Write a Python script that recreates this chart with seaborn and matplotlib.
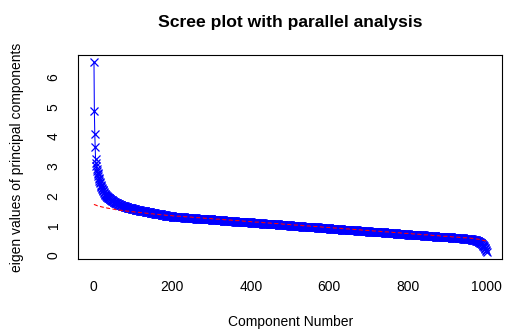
import numpy as np
import matplotlib
matplotlib.use("Agg")
import matplotlib.pyplot as plt
import seaborn as sns

eigen_values = [
    6.51, 4.85, 4.10, 3.65, 3.25, 3.10, 3.00, 2.92, 2.85, 2.78, 2.72, 2.66, 2.60, 2.55, 2.50, 2.46, 2.42, 2.38, 2.34, 2.30,
    2.27, 2.24, 2.21, 2.18, 2.15, 2.12, 2.10, 2.07, 2.05, 2.03, 2.01, 2.00, 1.98, 1.97, 1.96, 1.95, 1.94, 1.93, 1.92, 1.91,
    1.90, 1.89, 1.88, 1.87, 1.86, 1.85, 1.84, 1.83, 1.82, 1.81, 1.80, 1.80, 1.79, 1.78, 1.77, 1.77, 1.76, 1.75, 1.75, 1.74,
    1.73, 1.73, 1.72, 1.71, 1.71, 1.70, 1.70, 1.69, 1.69, 1.68, 1.68, 1.67, 1.67, 1.66, 1.66, 1.65, 1.65, 1.64, 1.64, 1.63,
    1.63, 1.62, 1.62, 1.62, 1.61, 1.61, 1.60, 1.60, 1.60, 1.59, 1.59, 1.58, 1.58, 1.58, 1.57, 1.57, 1.57, 1.56, 1.56, 1.56,
    1.55, 1.55, 1.55, 1.54, 1.54, 1.54, 1.53, 1.53, 1.53, 1.53, 1.52, 1.52, 1.52, 1.51, 1.51, 1.51, 1.51, 1.50, 1.50, 1.50,
    1.49, 1.49, 1.49, 1.49, 1.48, 1.48, 1.48, 1.48, 1.47, 1.47, 1.47, 1.47, 1.46, 1.46, 1.46, 1.46, 1.45, 1.45, 1.45, 1.45,
    1.44, 1.44, 1.44, 1.44, 1.43, 1.43, 1.43, 1.43, 1.42, 1.42, 1.42, 1.42, 1.41, 1.41, 1.41, 1.41, 1.40, 1.40, 1.40, 1.40,
    1.39, 1.39, 1.39, 1.39, 1.38, 1.38, 1.38, 1.38, 1.37, 1.37, 1.37, 1.37, 1.36, 1.36, 1.36, 1.36, 1.35, 1.35, 1.35, 1.35,
    1.34, 1.34, 1.34, 1.33, 1.33, 1.33, 1.33, 1.32, 1.32, 1.32, 1.32, 1.31, 1.31, 1.31, 1.31, 1.30, 1.30, 1.30, 1.30, 1.30,
    1.29, 1.29, 1.29, 1.29, 1.29, 1.29, 1.29, 1.29, 1.29, 1.29, 1.28, 1.28, 1.28, 1.28, 1.28, 1.28, 1.28, 1.28, 1.28, 1.28,
    1.27, 1.27, 1.27, 1.27, 1.27, 1.27, 1.27, 1.27, 1.27, 1.27, 1.26, 1.26, 1.26, 1.26, 1.26, 1.26, 1.26, 1.26, 1.26, 1.26,
    1.25, 1.25, 1.25, 1.25, 1.25, 1.25, 1.25, 1.25, 1.25, 1.25, 1.24, 1.24, 1.24, 1.24, 1.24, 1.24, 1.24, 1.24, 1.24, 1.24,
    1.23, 1.23, 1.23, 1.23, 1.23, 1.23, 1.23, 1.23, 1.23, 1.23, 1.22, 1.22, 1.22, 1.22, 1.22, 1.22, 1.22, 1.22, 1.22, 1.22,
    1.21, 1.21, 1.21, 1.21, 1.21, 1.21, 1.21, 1.21, 1.21, 1.21, 1.20, 1.20, 1.20, 1.20, 1.20, 1.20, 1.20, 1.20, 1.20, 1.20,
    1.19, 1.19, 1.19, 1.19, 1.19, 1.19, 1.19, 1.19, 1.19, 1.19, 1.18, 1.18, 1.18, 1.18, 1.18, 1.18, 1.18, 1.18, 1.18, 1.18,
    1.17, 1.17, 1.17, 1.17, 1.17, 1.17, 1.17, 1.17, 1.17, 1.17, 1.16, 1.16, 1.16, 1.16, 1.16, 1.16, 1.16, 1.16, 1.16, 1.16,
    1.15, 1.15, 1.15, 1.15, 1.15, 1.15, 1.15, 1.15, 1.15, 1.15, 1.14, 1.14, 1.14, 1.14, 1.14, 1.14, 1.14, 1.14, 1.14, 1.14,
    1.13, 1.13, 1.13, 1.13, 1.13, 1.13, 1.13, 1.13, 1.13, 1.13, 1.12, 1.12, 1.12, 1.12, 1.12, 1.12, 1.12, 1.12, 1.12, 1.12,
    1.11, 1.11, 1.11, 1.11, 1.11, 1.11, 1.11, 1.11, 1.11, 1.11, 1.10, 1.10, 1.10, 1.10, 1.10, 1.10, 1.10, 1.10, 1.10, 1.10,
    1.09, 1.09, 1.09, 1.09, 1.09, 1.09, 1.09, 1.09, 1.09, 1.09, 1.08, 1.08, 1.08, 1.08, 1.08, 1.08, 1.08, 1.08, 1.08, 1.08,
    1.07, 1.07, 1.07, 1.07, 1.07, 1.07, 1.07, 1.07, 1.07, 1.07, 1.06, 1.06, 1.06, 1.06, 1.06, 1.06, 1.06, 1.06, 1.06, 1.06,
    1.05, 1.05, 1.05, 1.05, 1.05, 1.05, 1.05, 1.05, 1.05, 1.05, 1.04, 1.04, 1.04, 1.04, 1.04, 1.04, 1.04, 1.04, 1.04, 1.04,
    1.03, 1.03, 1.03, 1.03, 1.03, 1.03, 1.03, 1.03, 1.03, 1.03, 1.02, 1.02, 1.02, 1.02, 1.02, 1.02, 1.02, 1.02, 1.02, 1.02,
    1.01, 1.01, 1.01, 1.01, 1.01, 1.01, 1.01, 1.01, 1.01, 1.01, 1.00, 1.00, 1.00, 1.00, 1.00, 1.00, 1.00, 1.00, 1.00, 1.00,
    0.99, 0.99, 0.99, 0.99, 0.99, 0.99, 0.99, 0.99, 0.99, 0.99, 0.98, 0.98, 0.98, 0.98, 0.98, 0.98, 0.98, 0.98, 0.98, 0.98,
    0.97, 0.97, 0.97, 0.97, 0.97, 0.97, 0.97, 0.97, 0.97, 0.97, 0.96, 0.96, 0.96, 0.96, 0.96, 0.96, 0.96, 0.96, 0.96, 0.96,
    0.95, 0.95, 0.95, 0.95, 0.95, 0.95, 0.95, 0.95, 0.95, 0.95, 0.94, 0.94, 0.94, 0.94, 0.94, 0.94, 0.94, 0.94, 0.94, 0.94,
    0.93, 0.93, 0.93, 0.93, 0.93, 0.93, 0.93, 0.93, 0.93, 0.93, 0.92, 0.92, 0.92, 0.92, 0.92, 0.92, 0.92, 0.92, 0.92, 0.92,
    0.91, 0.91, 0.91, 0.91, 0.91, 0.91, 0.91, 0.91, 0.91, 0.91, 0.90, 0.90, 0.90, 0.90, 0.90, 0.90, 0.90, 0.90, 0.90, 0.90,
    0.89, 0.89, 0.89, 0.89, 0.89, 0.89, 0.89, 0.89, 0.89, 0.89, 0.88, 0.88, 0.88, 0.88, 0.88, 0.88, 0.88, 0.88, 0.88, 0.88,
    0.87, 0.87, 0.87, 0.87, 0.87, 0.87, 0.87, 0.87, 0.87, 0.87, 0.86, 0.86, 0.86, 0.86, 0.86, 0.86, 0.86, 0.86, 0.86, 0.86,
    0.85, 0.85, 0.85, 0.85, 0.85, 0.85, 0.85, 0.85, 0.85, 0.85, 0.84, 0.84, 0.84, 0.84, 0.84, 0.84, 0.84, 0.84, 0.84, 0.84,
    0.83, 0.83, 0.83, 0.83, 0.83, 0.83, 0.83, 0.83, 0.83, 0.83, 0.82, 0.82, 0.82, 0.82, 0.82, 0.82, 0.82, 0.82, 0.82, 0.82,
    0.81, 0.81, 0.81, 0.81, 0.81, 0.81, 0.81, 0.81, 0.81, 0.81, 0.80, 0.80, 0.80, 0.80, 0.80, 0.80, 0.80, 0.80, 0.80, 0.80,
    0.79, 0.79, 0.79, 0.79, 0.79, 0.79, 0.79, 0.79, 0.79, 0.79, 0.78, 0.78, 0.78, 0.78, 0.78, 0.78, 0.78, 0.78, 0.78, 0.78,
    0.77, 0.77, 0.77, 0.77, 0.77, 0.77, 0.77, 0.77, 0.77, 0.77, 0.76, 0.76, 0.76, 0.76, 0.76, 0.76, 0.76, 0.76, 0.76, 0.76,
    0.75, 0.75, 0.75, 0.75, 0.75, 0.75, 0.75, 0.75, 0.75, 0.75, 0.74, 0.74, 0.74, 0.74, 0.74, 0.74, 0.74, 0.74, 0.74, 0.74,
    0.73, 0.73, 0.73, 0.73, 0.73, 0.73, 0.73, 0.73, 0.73, 0.73, 0.72, 0.72, 0.72, 0.72, 0.72, 0.72, 0.72, 0.72, 0.72, 0.72,
    0.71, 0.71, 0.71, 0.71, 0.71, 0.71, 0.71, 0.71, 0.71, 0.71, 0.70, 0.70, 0.70, 0.70, 0.70, 0.70, 0.70, 0.70, 0.70, 0.70,
    0.69, 0.69, 0.69, 0.69, 0.69, 0.69, 0.69, 0.69, 0.69, 0.69, 0.68, 0.68, 0.68, 0.68, 0.68, 0.68, 0.68, 0.68, 0.68, 0.68,
    0.67, 0.67, 0.67, 0.67, 0.67, 0.67, 0.67, 0.67, 0.67, 0.67, 0.66, 0.66, 0.66, 0.66, 0.66, 0.66, 0.66, 0.66, 0.66, 0.66,
    0.65, 0.65, 0.65, 0.65, 0.65, 0.65, 0.65, 0.65, 0.65, 0.65, 0.64, 0.64, 0.64, 0.64, 0.64, 0.64, 0.64, 0.64, 0.64, 0.64,
    0.63, 0.63, 0.63, 0.63, 0.63, 0.63, 0.63, 0.63, 0.63, 0.63, 0.62, 0.62, 0.62, 0.62, 0.62, 0.62, 0.62, 0.62, 0.62, 0.62,
    0.61, 0.61, 0.61, 0.61, 0.61, 0.61, 0.61, 0.61, 0.61, 0.61, 0.60, 0.60, 0.60, 0.60, 0.60, 0.60, 0.60, 0.60, 0.60, 0.60,
    0.59, 0.59, 0.59, 0.59, 0.59, 0.59, 0.59, 0.59, 0.59, 0.59, 0.58, 0.58, 0.58, 0.58, 0.58, 0.58, 0.58, 0.58, 0.58, 0.58,
    0.57, 0.57, 0.57, 0.57, 0.57, 0.57, 0.57, 0.57, 0.57, 0.57, 0.56, 0.56, 0.56, 0.56, 0.56, 0.56, 0.56, 0.56, 0.56, 0.56,
    0.55, 0.55, 0.55, 0.55, 0.55, 0.55, 0.55, 0.55, 0.55, 0.55, 0.54, 0.54, 0.54, 0.54, 0.54, 0.54, 0.54, 0.54, 0.54, 0.54,
    0.53, 0.53, 0.52, 0.52, 0.52, 0.51, 0.51, 0.51, 0.50, 0.50, 0.50, 0.49, 0.49, 0.48, 0.48, 0.47, 0.47, 0.46, 0.46, 0.45,
    0.45, 0.44, 0.43, 0.42, 0.41, 0.40, 0.39, 0.38, 0.37, 0.35, 0.33, 0.31, 0.29, 0.27, 0.25, 0.22, 0.19, 0.16, 0.13, 0.11,
]

# mean eigenvalues of the random data from the parallel analysis (red dashed line)
parallel_values = [
    1.71, 1.70, 1.70, 1.69, 1.69, 1.68, 1.68, 1.67, 1.67, 1.66, 1.66, 1.66, 1.65, 1.65, 1.64, 1.64, 1.64, 1.63, 1.63, 1.63,
    1.62, 1.62, 1.62, 1.61, 1.61, 1.61, 1.60, 1.60, 1.60, 1.60, 1.59, 1.59, 1.59, 1.59, 1.58, 1.58, 1.58, 1.58, 1.57, 1.57,
    1.57, 1.57, 1.56, 1.56, 1.56, 1.56, 1.55, 1.55, 1.55, 1.55, 1.55, 1.54, 1.54, 1.54, 1.54, 1.53, 1.53, 1.53, 1.53, 1.53,
    1.52, 1.52, 1.52, 1.52, 1.52, 1.51, 1.51, 1.51, 1.51, 1.51, 1.51, 1.50, 1.50, 1.50, 1.50, 1.50, 1.50, 1.49, 1.49, 1.49,
    1.49, 1.49, 1.49, 1.48, 1.48, 1.48, 1.48, 1.48, 1.48, 1.47, 1.47, 1.47, 1.47, 1.47, 1.47, 1.47, 1.46, 1.46, 1.46, 1.46,
    1.46, 1.46, 1.46, 1.45, 1.45, 1.45, 1.45, 1.45, 1.45, 1.45, 1.44, 1.44, 1.44, 1.44, 1.44, 1.44, 1.44, 1.43, 1.43, 1.43,
    1.43, 1.43, 1.43, 1.43, 1.42, 1.42, 1.42, 1.42, 1.42, 1.42, 1.42, 1.41, 1.41, 1.41, 1.41, 1.41, 1.41, 1.41, 1.40, 1.40,
    1.40, 1.40, 1.40, 1.40, 1.40, 1.39, 1.39, 1.39, 1.39, 1.39, 1.39, 1.39, 1.38, 1.38, 1.38, 1.38, 1.38, 1.38, 1.38, 1.37,
    1.37, 1.37, 1.37, 1.37, 1.37, 1.37, 1.37, 1.36, 1.36, 1.36, 1.36, 1.36, 1.36, 1.36, 1.35, 1.35, 1.35, 1.35, 1.35, 1.35,
    1.35, 1.35, 1.34, 1.34, 1.34, 1.34, 1.34, 1.34, 1.34, 1.34, 1.34, 1.33, 1.33, 1.33, 1.33, 1.33, 1.33, 1.33, 1.33, 1.33,
    1.32, 1.32, 1.32, 1.32, 1.32, 1.32, 1.32, 1.32, 1.32, 1.32, 1.31, 1.31, 1.31, 1.31, 1.31, 1.31, 1.31, 1.31, 1.31, 1.31,
    1.30, 1.30, 1.30, 1.30, 1.30, 1.30, 1.30, 1.30, 1.30, 1.30, 1.29, 1.29, 1.29, 1.29, 1.29, 1.29, 1.29, 1.29, 1.29, 1.29,
    1.28, 1.28, 1.28, 1.28, 1.28, 1.28, 1.28, 1.28, 1.28, 1.28, 1.27, 1.27, 1.27, 1.27, 1.27, 1.27, 1.27, 1.27, 1.27, 1.27,
    1.26, 1.26, 1.26, 1.26, 1.26, 1.26, 1.26, 1.26, 1.26, 1.26, 1.25, 1.25, 1.25, 1.25, 1.25, 1.25, 1.25, 1.25, 1.25, 1.25,
    1.24, 1.24, 1.24, 1.24, 1.24, 1.24, 1.24, 1.24, 1.24, 1.24, 1.23, 1.23, 1.23, 1.23, 1.23, 1.23, 1.23, 1.23, 1.23, 1.23,
    1.22, 1.22, 1.22, 1.22, 1.22, 1.22, 1.22, 1.22, 1.22, 1.22, 1.21, 1.21, 1.21, 1.21, 1.21, 1.21, 1.21, 1.21, 1.21, 1.21,
    1.20, 1.20, 1.20, 1.20, 1.20, 1.20, 1.20, 1.20, 1.20, 1.20, 1.19, 1.19, 1.19, 1.19, 1.19, 1.19, 1.19, 1.19, 1.19, 1.19,
    1.18, 1.18, 1.18, 1.18, 1.18, 1.18, 1.18, 1.18, 1.18, 1.18, 1.17, 1.17, 1.17, 1.17, 1.17, 1.17, 1.17, 1.17, 1.17, 1.17,
    1.16, 1.16, 1.16, 1.16, 1.16, 1.16, 1.16, 1.16, 1.16, 1.16, 1.15, 1.15, 1.15, 1.15, 1.15, 1.15, 1.15, 1.15, 1.15, 1.15,
    1.14, 1.14, 1.14, 1.14, 1.14, 1.14, 1.14, 1.14, 1.14, 1.14, 1.13, 1.13, 1.13, 1.13, 1.13, 1.13, 1.13, 1.13, 1.13, 1.13,
    1.12, 1.12, 1.12, 1.12, 1.12, 1.12, 1.12, 1.12, 1.12, 1.12, 1.11, 1.11, 1.11, 1.11, 1.11, 1.11, 1.11, 1.11, 1.11, 1.11,
    1.10, 1.10, 1.10, 1.10, 1.10, 1.10, 1.10, 1.10, 1.10, 1.10, 1.09, 1.09, 1.09, 1.09, 1.09, 1.09, 1.09, 1.09, 1.09, 1.09,
    1.08, 1.08, 1.08, 1.08, 1.08, 1.08, 1.08, 1.08, 1.08, 1.08, 1.07, 1.07, 1.07, 1.07, 1.07, 1.07, 1.07, 1.07, 1.07, 1.07,
    1.06, 1.06, 1.06, 1.06, 1.06, 1.06, 1.06, 1.06, 1.06, 1.06, 1.05, 1.05, 1.05, 1.05, 1.05, 1.05, 1.05, 1.05, 1.05, 1.05,
    1.04, 1.04, 1.04, 1.04, 1.04, 1.04, 1.04, 1.04, 1.04, 1.04, 1.03, 1.03, 1.03, 1.03, 1.03, 1.03, 1.03, 1.03, 1.03, 1.03,
    1.02, 1.02, 1.02, 1.02, 1.02, 1.02, 1.02, 1.02, 1.02, 1.02, 1.01, 1.01, 1.01, 1.01, 1.01, 1.01, 1.01, 1.01, 1.01, 1.01,
    1.00, 1.00, 1.00, 1.00, 1.00, 1.00, 1.00, 1.00, 1.00, 1.00, 0.99, 0.99, 0.99, 0.99, 0.99, 0.99, 0.99, 0.99, 0.99, 0.99,
    0.98, 0.98, 0.98, 0.98, 0.98, 0.98, 0.98, 0.98, 0.98, 0.98, 0.97, 0.97, 0.97, 0.97, 0.97, 0.97, 0.97, 0.97, 0.97, 0.97,
    0.96, 0.96, 0.96, 0.96, 0.96, 0.96, 0.96, 0.96, 0.96, 0.96, 0.95, 0.95, 0.95, 0.95, 0.95, 0.95, 0.95, 0.95, 0.95, 0.95,
    0.94, 0.94, 0.94, 0.94, 0.94, 0.94, 0.94, 0.94, 0.94, 0.94, 0.93, 0.93, 0.93, 0.93, 0.93, 0.93, 0.93, 0.93, 0.93, 0.93,
    0.92, 0.92, 0.92, 0.92, 0.92, 0.92, 0.92, 0.92, 0.92, 0.92, 0.91, 0.91, 0.91, 0.91, 0.91, 0.91, 0.91, 0.91, 0.91, 0.91,
    0.90, 0.90, 0.90, 0.90, 0.90, 0.90, 0.90, 0.90, 0.90, 0.90, 0.89, 0.89, 0.89, 0.89, 0.89, 0.89, 0.89, 0.89, 0.89, 0.89,
    0.88, 0.88, 0.88, 0.88, 0.88, 0.88, 0.88, 0.88, 0.88, 0.88, 0.87, 0.87, 0.87, 0.87, 0.87, 0.87, 0.87, 0.87, 0.87, 0.87,
    0.86, 0.86, 0.86, 0.86, 0.86, 0.86, 0.86, 0.86, 0.86, 0.86, 0.85, 0.85, 0.85, 0.85, 0.85, 0.85, 0.85, 0.85, 0.85, 0.85,
    0.84, 0.84, 0.84, 0.84, 0.84, 0.84, 0.84, 0.84, 0.84, 0.84, 0.83, 0.83, 0.83, 0.83, 0.83, 0.83, 0.83, 0.83, 0.83, 0.83,
    0.82, 0.82, 0.82, 0.82, 0.82, 0.82, 0.82, 0.82, 0.82, 0.82, 0.81, 0.81, 0.81, 0.81, 0.81, 0.81, 0.81, 0.81, 0.81, 0.81,
    0.80, 0.80, 0.80, 0.80, 0.80, 0.80, 0.80, 0.80, 0.80, 0.80, 0.79, 0.79, 0.79, 0.79, 0.79, 0.79, 0.79, 0.79, 0.79, 0.79,
    0.78, 0.78, 0.78, 0.78, 0.78, 0.78, 0.78, 0.78, 0.78, 0.78, 0.77, 0.77, 0.77, 0.77, 0.77, 0.77, 0.77, 0.77, 0.77, 0.77,
    0.76, 0.76, 0.76, 0.76, 0.76, 0.76, 0.76, 0.76, 0.76, 0.76, 0.75, 0.75, 0.75, 0.75, 0.75, 0.75, 0.75, 0.75, 0.75, 0.75,
    0.74, 0.74, 0.74, 0.74, 0.74, 0.74, 0.74, 0.74, 0.74, 0.74, 0.73, 0.73, 0.73, 0.73, 0.73, 0.73, 0.73, 0.73, 0.73, 0.73,
    0.72, 0.72, 0.72, 0.72, 0.72, 0.72, 0.72, 0.72, 0.72, 0.72, 0.71, 0.71, 0.71, 0.71, 0.71, 0.71, 0.71, 0.71, 0.71, 0.71,
    0.70, 0.70, 0.70, 0.70, 0.70, 0.70, 0.70, 0.70, 0.70, 0.70, 0.69, 0.69, 0.69, 0.69, 0.69, 0.69, 0.69, 0.69, 0.69, 0.69,
    0.68, 0.68, 0.68, 0.68, 0.68, 0.68, 0.68, 0.68, 0.68, 0.68, 0.67, 0.67, 0.67, 0.67, 0.67, 0.67, 0.67, 0.67, 0.67, 0.67,
    0.66, 0.66, 0.66, 0.66, 0.66, 0.66, 0.66, 0.66, 0.66, 0.66, 0.65, 0.65, 0.65, 0.65, 0.65, 0.65, 0.65, 0.65, 0.65, 0.65,
    0.64, 0.64, 0.64, 0.64, 0.64, 0.64, 0.64, 0.64, 0.64, 0.64, 0.63, 0.63, 0.63, 0.63, 0.63, 0.63, 0.63, 0.63, 0.63, 0.63,
    0.62, 0.62, 0.62, 0.62, 0.62, 0.62, 0.62, 0.62, 0.62, 0.62, 0.61, 0.61, 0.61, 0.61, 0.61, 0.61, 0.61, 0.61, 0.61, 0.61,
    0.60, 0.60, 0.60, 0.60, 0.60, 0.60, 0.60, 0.60, 0.60, 0.60, 0.59, 0.59, 0.59, 0.59, 0.59, 0.59, 0.59, 0.59, 0.59, 0.59,
    0.58, 0.58, 0.58, 0.58, 0.58, 0.58, 0.58, 0.58, 0.58, 0.58, 0.57, 0.57, 0.57, 0.57, 0.57, 0.57, 0.57, 0.57, 0.57, 0.57,
    0.56, 0.56, 0.56, 0.56, 0.56, 0.55, 0.55, 0.55, 0.55, 0.55, 0.55, 0.54, 0.54, 0.54, 0.54, 0.54, 0.54, 0.53, 0.53, 0.53,
    0.53, 0.53, 0.52, 0.52, 0.52, 0.51, 0.51, 0.51, 0.50, 0.50, 0.50, 0.49, 0.49, 0.49, 0.48, 0.48, 0.47, 0.47, 0.46, 0.45,
]

x_ticks = [0, 200, 400, 600, 800, 1000]
y_ticks = [0, 1, 2, 3, 4, 5, 6]

component = np.arange(1, len(eigen_values) + 1)
component_pa = np.arange(1, len(parallel_values) + 1)

sns.set_style("white")
plt.rcParams["font.family"] = ["Liberation Sans", "DejaVu Sans"]
plt.rcParams["text.color"] = "black"
plt.rcParams["axes.labelcolor"] = "black"

fig = plt.figure(figsize=(5.06, 3.29), dpi=100)
ax = fig.add_axes([0.1547, 0.2119, 0.8379, 0.6219])

sns.lineplot(x=component, y=eigen_values, ax=ax, color="blue", marker="x",
             markersize=6.2, markeredgewidth=0.9, markeredgecolor="blue",
             linewidth=0.75, sort=False, errorbar=None)
sns.lineplot(x=component_pa, y=parallel_values, ax=ax, color="red",
             linewidth=0.75, linestyle=(0, (4, 2.4)), sort=False, errorbar=None)

# R-style axis range: data range plus 4% on each side
x_lo, x_hi = component.min(), component.max()
ax.set_xlim(x_lo - 0.04 * (x_hi - x_lo), x_hi + 0.04 * (x_hi - x_lo))
y_lo, y_hi = min(eigen_values), max(eigen_values)
ax.set_ylim(y_lo - 0.04 * (y_hi - y_lo), y_hi + 0.04 * (y_hi - y_lo))

ax.set_xticks(x_ticks)
ax.set_yticks(y_ticks)
ax.tick_params(direction="out", length=5.8, width=0.75, labelsize=10,
               colors="black", pad=7)
ax.tick_params(axis="x", pad=9)
for lab in ax.get_yticklabels():
    lab.set_rotation(90)
    lab.set_va("center")

for sp in ax.spines.values():
    sp.set_visible(True)
    sp.set_color("black")
    sp.set_linewidth(0.8)

ax.set_xlabel("Component Number", fontsize=10, color="black")
ax.xaxis.set_label_coords(0.5, -0.305)
ax.xaxis.label.set_va("center")
ax.set_ylabel("eigen values of principal components", fontsize=10, color="black")
ax.yaxis.set_label_coords(-0.1446, 0.5)
ax.yaxis.label.set_va("center")
ax.set_title("Scree plot with parallel analysis", fontsize=12.6,
             fontweight="bold", color="black", pad=20)

fig.savefig("out.png", dpi=100)
